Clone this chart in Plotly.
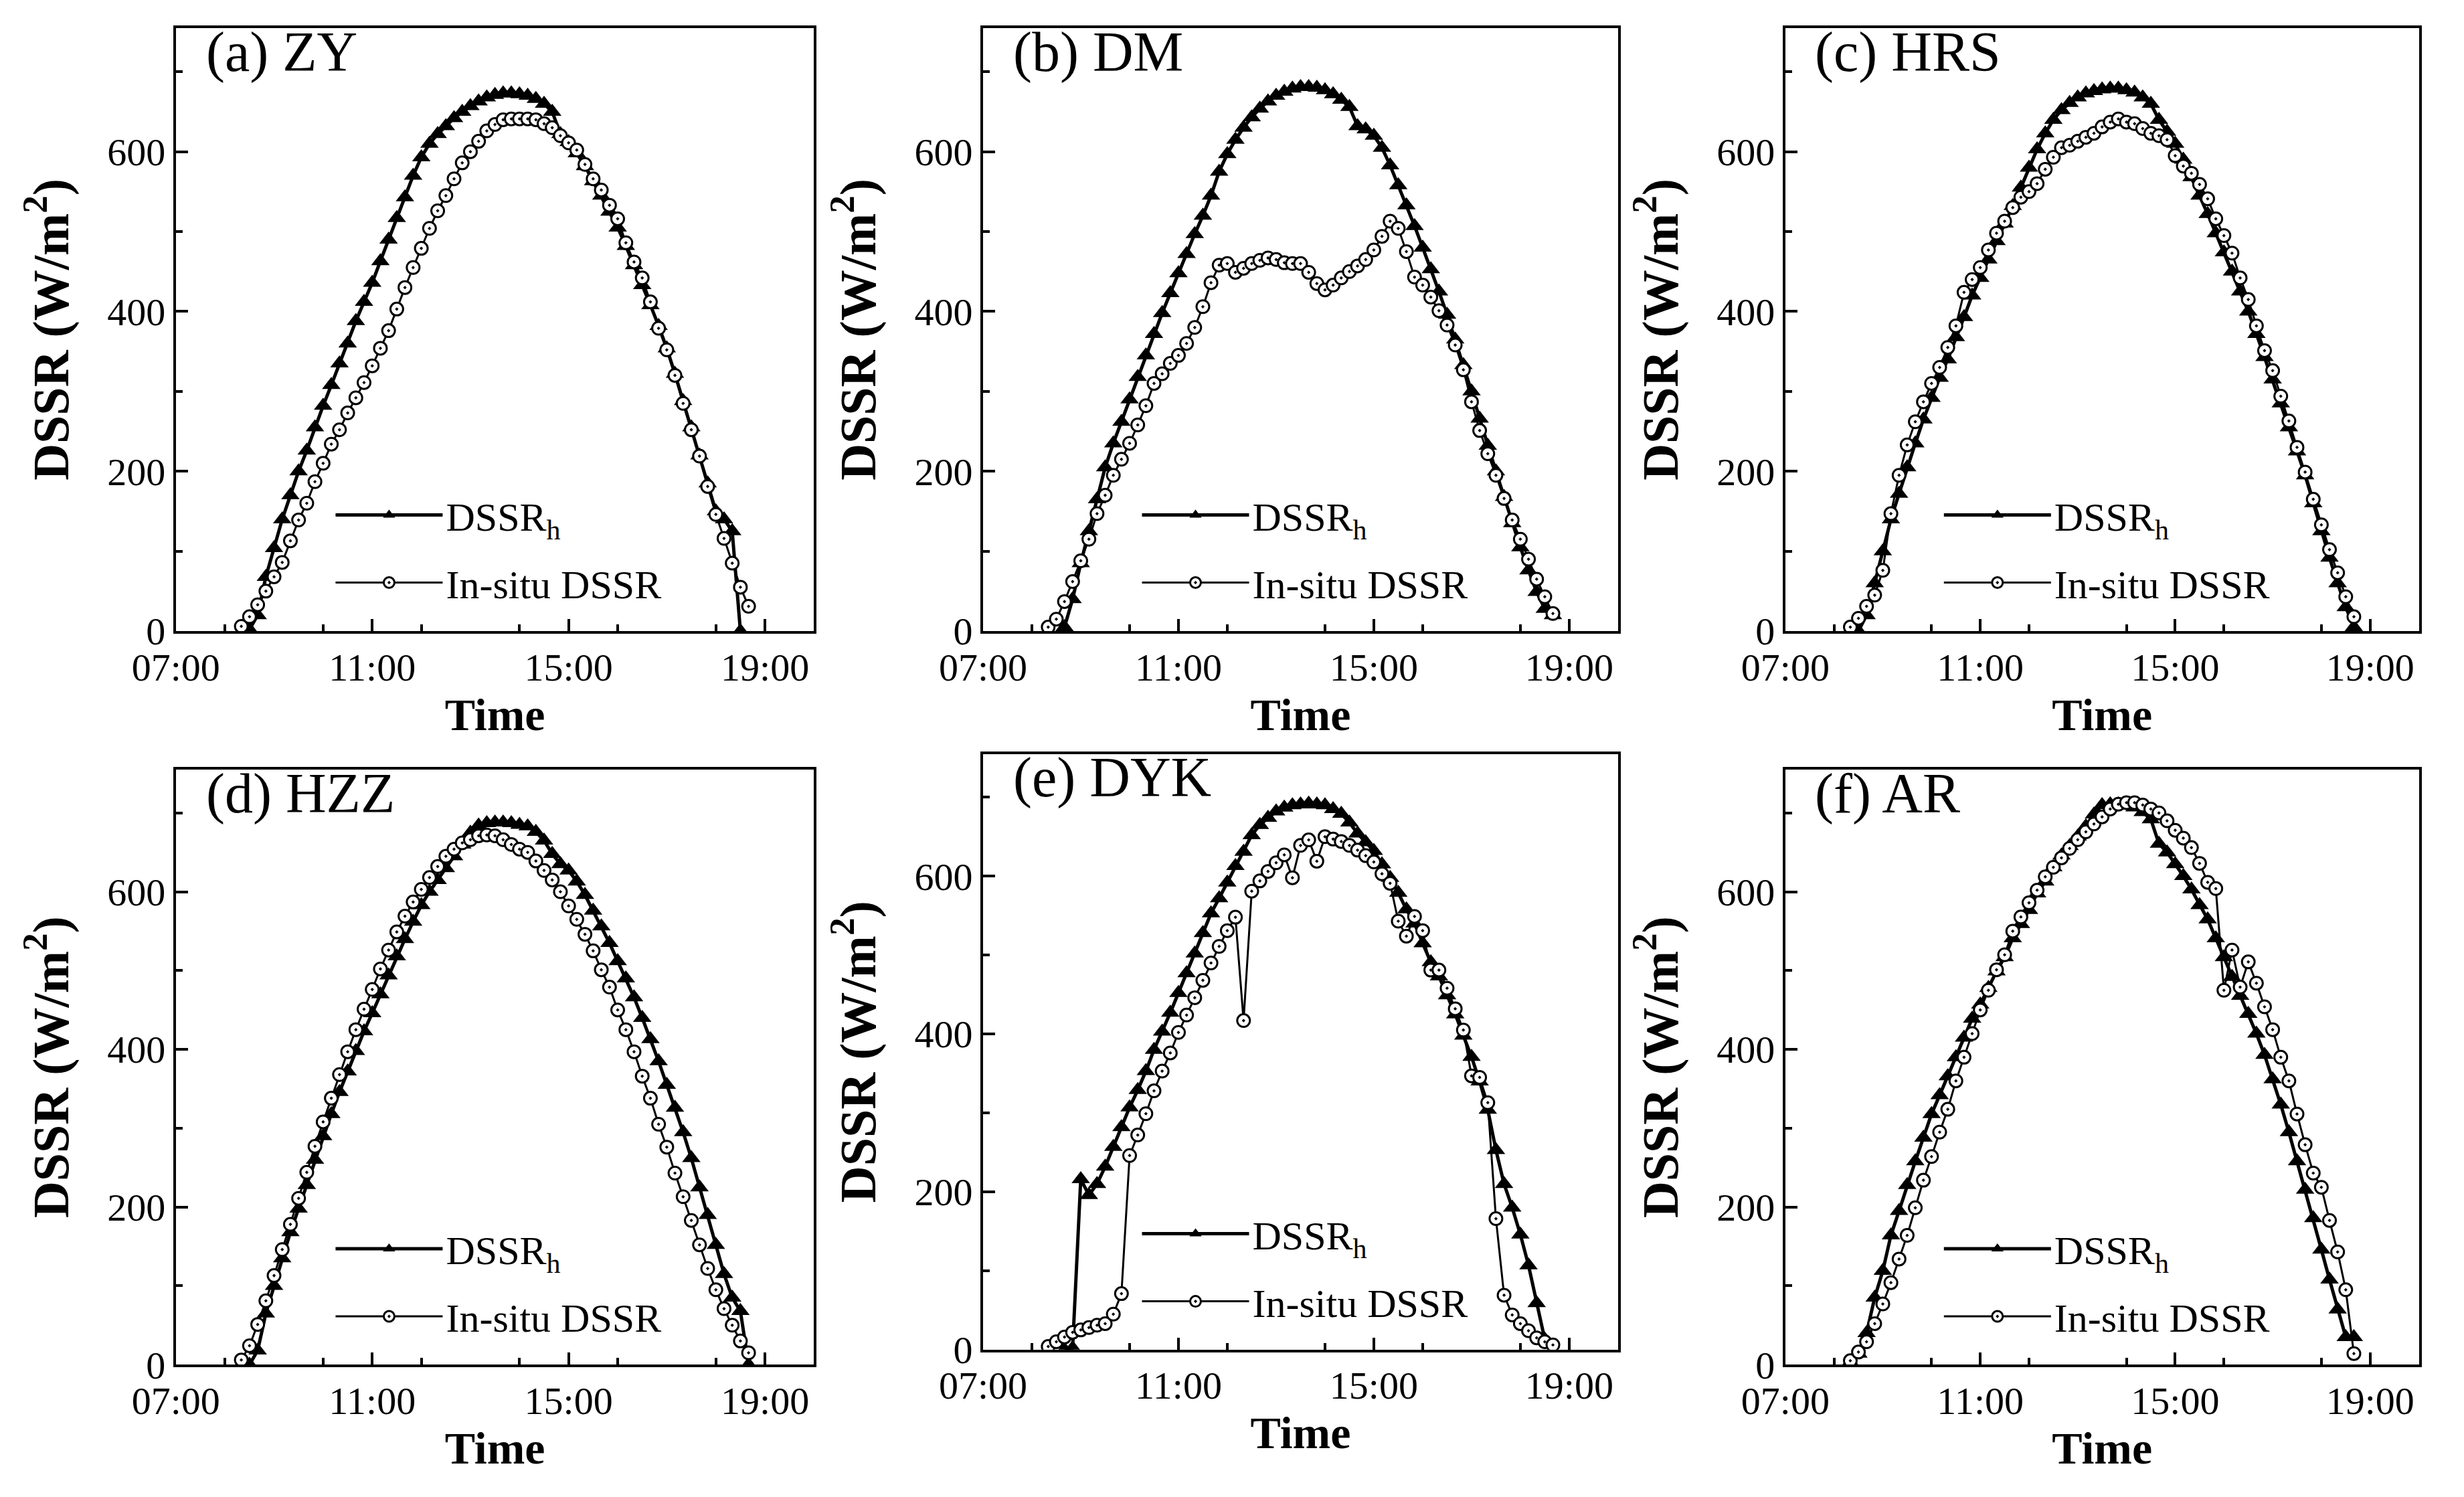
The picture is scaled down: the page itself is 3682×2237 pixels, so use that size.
import plotly.graph_objects as go

# ========================================================
# Data (10-min steps, W/m2)
# ========================================================

day = "2022-06-01 "

times = ["08:20", "08:30", "08:40", "08:50",
         "09:00", "09:10", "09:20", "09:30", "09:40", "09:50",
         "10:00", "10:10", "10:20", "10:30", "10:40", "10:50",
         "11:00", "11:10", "11:20", "11:30", "11:40", "11:50",
         "12:00", "12:10", "12:20", "12:30", "12:40", "12:50",
         "13:00", "13:10", "13:20", "13:30", "13:40", "13:50",
         "14:00", "14:10", "14:20", "14:30", "14:40", "14:50",
         "15:00", "15:10", "15:20", "15:30", "15:40", "15:50",
         "16:00", "16:10", "16:20", "16:30", "16:40", "16:50",
         "17:00", "17:10", "17:20", "17:30", "17:40", "17:50",
         "18:00", "18:10", "18:20", "18:30", "18:40"]

# (a) ZY
zy_h = [None, 2, 20, 68,
        104, 140, 170, 200, 226, 255,
        282, 308, 335, 360, 388, 412,
        436, 463, 490, 517, 543, 570,
        593, 610, 622, 632, 642, 650,
        657, 663, 668, 671, 673, 673,
        672, 670, 666, 660, 650, 622,
        612, 598, 582, 563, 545, 525,
        505, 482, 458, 433, 408, 382,
        354, 322, 288, 255, 220, 185,
        150, 140, 125, 0, None]
zy_obs = [6, 18, 33, 50,
          68, 86, 113, 139, 160, 187,
          210, 234, 252, 273, 292, 311,
          332, 354, 376, 403, 430, 455,
          479, 504, 526, 545, 566, 586,
          600, 613, 626, 634, 640, 641,
          641, 641, 640, 635, 630, 620,
          611, 602, 584, 566, 552, 533,
          516, 486, 462, 442, 412, 379,
          352, 320, 285, 252, 219, 181,
          146, 116, 85, 55, 31]

# (b) DM
dm_h = [None, None, 5, 40,
        85, 125, 165, 205, 235, 262,
        290, 318, 345, 372, 398, 423,
        448, 472, 497, 520, 545, 575,
        597, 615, 630, 643, 654, 663,
        670, 675, 679, 681, 681, 680,
        677, 672, 665, 656, 632, 628,
        620, 605, 583, 558, 533, 507,
        480, 453, 425, 396, 365, 333,
        300, 266, 232, 200, 168, 135,
        105, 76, 49, 28, 20]
dm_obs = [5, 15, 37, 62,
          88, 115, 147, 170, 195, 215,
          235, 258, 282, 310, 322, 335,
          345, 360, 380, 406, 436, 458,
          460, 449, 454, 460, 464, 467,
          465, 461, 460, 460, 449, 435,
          427, 433, 442, 450, 457, 465,
          477, 494, 513, 504, 475, 443,
          433, 418, 401, 383, 358, 327,
          287, 251, 222, 195, 166, 139,
          115, 90, 65, 43, 22]

# (c) HRS
hrs_h = [None, 0, 20, 60,
         100, 140, 172, 205, 235, 265,
         292, 317, 340, 368, 393, 420,
         442, 465, 488, 510, 532, 555,
         580, 603, 623, 640, 652, 661,
         668, 673, 676, 678, 679, 679,
         677, 674, 668, 660, 640, 625,
         610, 590, 568, 545, 522, 498,
         474, 450, 425, 400, 372, 343,
         315, 285, 255, 225, 195, 160,
         125, 92, 60, 30, 5]
hrs_obs = [5, 16, 31, 45,
           76, 147, 195, 233, 262, 287,
           310, 330, 355, 382, 424, 440,
           455, 477, 498, 513, 530, 543,
           550, 560, 578, 593, 605, 608,
           613, 618, 623, 631, 637, 641,
           637, 635, 629, 623, 620, 615,
           595, 582, 573, 559, 541, 516,
           495, 473, 442, 415, 382, 351,
           326, 294, 263, 230, 199, 165,
           133, 102, 73, 43, 18]

# (d) HZZ
hzz_h = [None, 0, 18, 65,
         100, 135, 168, 198, 228, 260,
         290, 318, 346, 372, 398, 423,
         446, 470, 494, 518, 540, 562,
         583, 600, 615, 630, 645, 660,
         675, 684, 687, 688, 688, 687,
         685, 683, 676, 665, 648, 635,
         627, 613, 596, 576, 556, 535,
         512, 490, 466, 440, 413, 385,
         355, 326, 295, 262, 225, 190,
         152, 115, 85, 68, 0]
hzz_obs = [6, 24, 51, 81,
           113, 146, 178, 211, 244, 277,
           308, 338, 368, 397, 425, 451,
           476, 502, 526, 549, 569, 587,
           603, 618, 632, 645, 654, 662,
           666, 671, 672, 671, 666, 660,
           654, 650, 639, 627, 615, 600,
           582, 565, 546, 525, 501, 479,
           450, 425, 397, 366, 338, 305,
           276, 243, 213, 183, 152, 122,
           95, 71, 50, 30, 15]

# (e) DYK
dyk_h = [None, None, 0, 2,
         216, 196, 210, 232, 257, 282,
         307, 329, 353, 380, 403, 427,
         452, 477, 502, 528, 553, 572,
         592, 613, 631, 652, 665, 674,
         682, 687, 690, 691, 692, 691,
         690, 685, 679, 668, 654, 643,
         632, 615, 598, 579, 558, 540,
         515, 491, 473, 449, 425, 398,
         371, 340, 304, 253, 210, 180,
         146, 107, 59, 13, None]
dyk_obs = [4, 10, 16, 22,
           25, 28, 31, 33, 45, 71,
           246, 272, 299, 328, 353, 376,
           402, 424, 446, 468, 490, 511,
           531, 548, 417, 581, 594, 606,
           617, 627, 598, 639, 646, 619,
           650, 647, 644, 639, 633, 626,
           618, 603, 591, 543, 524, 549,
           531, 481, 481, 458, 432, 405,
           347, 345, 313, 166, 69, 44,
           33, 24, 15, 10, 6]

# (f) AR
ar_h = [3, 14, 40, 85,
        119, 164, 195, 228, 258, 288,
        318, 342, 366, 390, 415, 439,
        457, 478, 499, 517, 541, 559,
        577, 598, 613, 631, 646, 658,
        670, 683, 698, 710, 711, 711,
        710, 707, 701, 692, 661, 650,
        635, 620, 603, 583, 565, 541,
        517, 492, 468, 445, 420, 393,
        362, 330, 295, 258, 222, 186,
        146, 108, 70, 35, 35]
ar_obs = [5, 16, 29, 52,
          77, 104, 134, 164, 199, 234,
          264, 295, 324, 360, 390, 420,
          450, 475, 501, 520, 550, 568,
          586, 602, 619, 631, 643, 655,
          666, 676, 686, 695, 705, 711,
          713, 713, 710, 705, 700, 690,
          678, 668, 656, 636, 612, 604,
          475, 526, 479, 511, 484, 454,
          425, 390, 360, 318, 279, 243,
          225, 183, 143, 95, 14]

labels = ["(a) ZY", "(b) DM", "(c) HRS", "(d) HZZ", "(e) DYK", "(f) AR"]
series_h = [zy_h, dm_h, hrs_h, hzz_h, dyk_h, ar_h]
series_obs = [zy_obs, dm_obs, hrs_obs, hzz_obs, dyk_obs, ar_obs]

# ========================================================
# Layout (paper fractions)
# ========================================================

xdom = [(0.0692, 0.3282), (0.3968, 0.6545), (0.7224, 0.9795),
        (0.0692, 0.3282), (0.3968, 0.6545), (0.7224, 0.9795)]
ydom = [(0.582, 0.985), (0.582, 0.985), (0.582, 0.985),
        (0.092, 0.4895), (0.102, 0.500), (0.092, 0.4895)]

FONT = "Liberation Serif"
x_time = [day + t for t in times]

fig = go.Figure()

for i in range(6):
    n = "" if i == 0 else str(i + 1)
    leg = "legend" + n

    fig.add_trace(go.Scatter(
        x=x_time, y=series_h[i], mode="lines+markers", name="DSSR<sub>h</sub>",
        xaxis="x" + n, yaxis="y" + n, legend=leg, legendgroup="h" + n,
        line=dict(color="black", width=5),
        marker=dict(symbol="triangle-up", size=24, color="black")))
    fig.add_trace(go.Scatter(
        x=x_time, y=series_obs[i], mode="lines+markers", name="In-situ DSSR",
        xaxis="x" + n, yaxis="y" + n, legend=leg, legendgroup="o" + n,
        line=dict(color="black", width=3),
        marker=dict(symbol="circle-dot", size=19, color="white",
                    line=dict(color="black", width=3))))

    axis_common = dict(showline=True, linecolor="black", linewidth=4, mirror=True,
                       ticks="inside", ticklen=18, tickwidth=4, tickcolor="black",
                       showgrid=False, zeroline=False, automargin=False,
                       tickfont=dict(family=FONT, size=58, color="black"))

    fig.layout["xaxis" + n] = dict(
        axis_common, domain=xdom[i], anchor="y" + n, type="date",
        range=[day + "07:00", day + "20:00"],
        tickmode="linear", tick0=day + "07:00", dtick=4 * 3600 * 1000,
        tickformat="%H:%M",
        minor=dict(dtick=2 * 3600 * 1000, ticks="inside", ticklen=10,
                   tickwidth=4, tickcolor="black"),
        title=dict(text="<b>Time</b>", font=dict(family=FONT, size=68, color="black"),
                   standoff=8))
    fig.layout["yaxis" + n] = dict(
        axis_common, domain=ydom[i], anchor="x" + n,
        range=[0, 755], tickmode="linear", tick0=0, dtick=200,
        minor=dict(dtick=100, ticks="inside", ticklen=10,
                   tickwidth=4, tickcolor="black"),
        title=dict(text="<b>DSSR (W/m<sup>2</sup>)</b>",
                   font=dict(family=FONT, size=76, color="black"), standoff=34))

    x0, x1 = xdom[i]
    y0, y1 = ydom[i]
    fig.layout[leg] = dict(
        x=x0 + 0.245 * (x1 - x0), y=y0 + 0.03 * (y1 - y0),
        xanchor="left", yanchor="bottom", bgcolor="rgba(0,0,0,0)",
        font=dict(family=FONT, size=60, color="black"),
        traceorder="grouped", tracegroupgap=20, itemwidth=160)

    fig.add_annotation(text=labels[i], xref="x" + n + " domain", yref="y" + n + " domain",
                       x=0.045, y=0.96, xanchor="left", yanchor="middle", showarrow=False,
                       font=dict(family=FONT, size=84, color="black"))

fig.update_layout(
    width=3682, height=2237,
    margin=dict(l=0, r=0, t=0, b=0),
    paper_bgcolor="white", plot_bgcolor="white",
    showlegend=True,
)

fig.write_html("out.html")
